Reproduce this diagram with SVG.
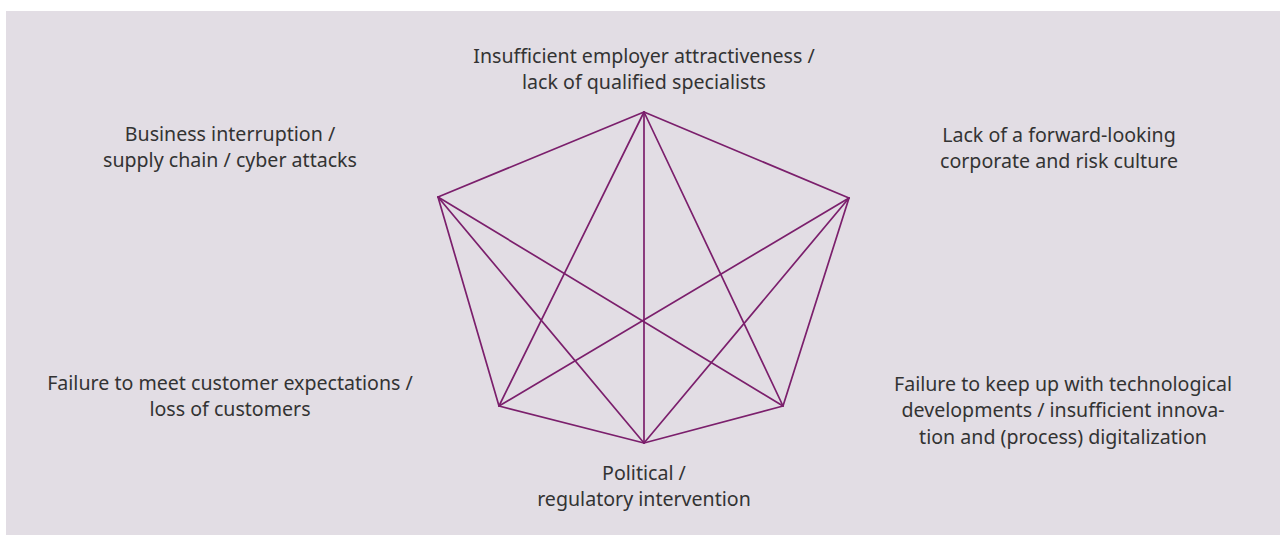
<svg xmlns="http://www.w3.org/2000/svg" width="1280" height="535" viewBox="0 0 1280 535">
  <style>
    .lbl { font-family: "Noto Sans", "Open Sans", sans-serif; font-size: 19.6px; fill: #333333; text-anchor: middle; }
    .edge { stroke: #7b1f6c; stroke-width: 1.7; fill: none; stroke-linecap: round; stroke-linejoin: round; }
  </style>
  <rect x="6" y="11" width="1274" height="524" fill="#e2dde4"/>

  <!-- hexagonal web linking the six risk areas -->
  <g id="connectors">
    <!-- outer hexagon -->
    <path class="edge" d="M644 112 L849 198 L783 406 L644 443 L499 406 L438 197 Z"/>
    <!-- inner star lines -->
    <line class="edge" x1="644" y1="112" x2="644" y2="443"/>
    <line class="edge" x1="644" y1="112" x2="499" y2="406"/>
    <line class="edge" x1="644" y1="112" x2="783" y2="406"/>
    <line class="edge" x1="438" y1="197" x2="783" y2="406"/>
    <line class="edge" x1="438" y1="197" x2="644" y2="443"/>
    <line class="edge" x1="849" y1="198" x2="499" y2="406"/>
    <line class="edge" x1="849" y1="198" x2="644" y2="443"/>
  </g>

  <g id="node-top">
    <text class="lbl" x="644" y="63">Insufficient employer attractiveness /</text>
    <text class="lbl" x="644" y="89">lack of qualified specialists</text>
  </g>
  <g id="node-upper-left">
    <text class="lbl" x="230" y="141">Business interruption /</text>
    <text class="lbl" x="230" y="167">supply chain / cyber attacks</text>
  </g>
  <g id="node-upper-right">
    <text class="lbl" x="1059" y="142">Lack of a forward-looking</text>
    <text class="lbl" x="1059" y="168">corporate and risk culture</text>
  </g>
  <g id="node-lower-left">
    <text class="lbl" x="230" y="390">Failure to meet customer expectations /</text>
    <text class="lbl" x="230" y="416">loss of customers</text>
  </g>
  <g id="node-lower-right">
    <text class="lbl" x="1063" y="391">Failure to keep up with technological</text>
    <text class="lbl" x="1063" y="417">developments / insufficient innova-</text>
    <text class="lbl" x="1063" y="444">tion and (process) digitalization</text>
  </g>
  <g id="node-bottom">
    <text class="lbl" x="644" y="480">Political /</text>
    <text class="lbl" x="644" y="506">regulatory intervention</text>
  </g>
</svg>
